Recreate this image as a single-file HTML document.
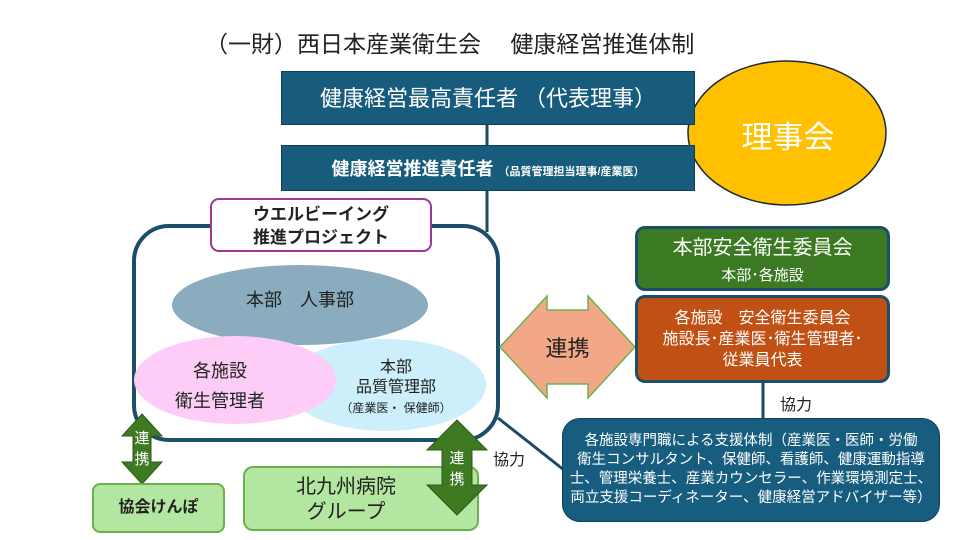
<!DOCTYPE html>
<html><head><meta charset="utf-8"><style>
body{margin:0;width:960px;height:540px;background:#fff;position:relative;overflow:hidden;font-family:"Liberation Sans","Noto Sans CJK JP",sans-serif}
.a{position:absolute;box-sizing:border-box;text-align:center}
</style></head><body>
<div class="a" style="left:205px;top:25px;width:540px;font-size:23px;color:#222;text-align:left">（一財）西日本産業衛生会　 健康経営推進体制</div>
<svg class="a" style="left:0;top:0" width="960" height="540">
<line x1="487" y1="120" x2="487" y2="232" stroke="#1b4a66" stroke-width="3"/>
<line x1="763" y1="380" x2="763" y2="420" stroke="#1b4a66" stroke-width="3"/>
<line x1="498" y1="418" x2="564" y2="470" stroke="#1b4a66" stroke-width="3"/>
<ellipse cx="787" cy="133" rx="99" ry="72" fill="#ffc000" stroke="#1a2a33" stroke-width="1.5"/>
<rect x="134" y="226" width="364" height="214" rx="35" fill="#fff" stroke="#1b4e6b" stroke-width="4"/>
<ellipse cx="300" cy="305" rx="128" ry="40" fill="#8aacbe"/>
<ellipse cx="386" cy="385" rx="100" ry="46" fill="#cdeefb"/>
<ellipse cx="235" cy="380" rx="101" ry="44" fill="#fdcdf7"/>
<polygon points="500,347 547,296 547,310 588,310 588,296 635,347 588,398 588,384 547,384 547,398" fill="#f2a886" stroke="#6bb24e" stroke-width="1.5"/>
<polygon points="142,414 162,436 151,436 151,462 162,462 142,484 122,462 133,462 133,436 122,436" fill="#3d7a22" stroke="#2d5a18"/>
</svg>
<div class="a" style="left:281px;top:71px;width:414px;height:54px;background:#175b7d;color:#fff;font-size:22px;line-height:54px;border:1px solid #0f3f58">健康経営最高責任者 （代表理事）</div>
<div class="a" style="left:281px;top:145px;width:414px;height:46px;background:#175b7d;color:#fff;font-size:18px;line-height:46px;border:1px solid #0f3f58;font-weight:bold">健康経営推進責任者 <span style="font-size:11px">（品質管理担当理事/産業医）</span></div>
<div class="a" style="left:690px;top:112px;width:196px;font-size:31px;color:#fff">理事会</div>
<div class="a" style="left:210px;top:198px;width:222px;height:54px;background:#fff;border:2px solid #a0359a;border-radius:9px;font-size:17px;line-height:23px;padding-top:3px;font-weight:bold;color:#222">ウエルビーイング<br>推進プロジェクト</div>
<div class="a" style="left:200px;top:286px;width:200px;font-size:18px;color:#222">本部　人事部</div>
<div class="a" style="left:140px;top:356px;width:160px;font-size:18px;line-height:30px;color:#222">各施設<br>衛生管理者</div>
<div class="a" style="left:316px;top:358px;width:160px;font-size:16px;line-height:20px;color:#222">本部<br>品質管理部<br><span style="font-size:12px">（産業医・ 保健師）</span></div>
<div class="a" style="left:635px;top:226px;width:255px;height:65px;background:#3b7a22;border:3px solid #1b4e6b;border-radius:10px;color:#fff;font-size:20px;line-height:26px;padding-top:6px">本部安全衛生委員会<br><span style="font-size:15px">本部･各施設</span></div>
<div class="a" style="left:635px;top:295px;width:255px;height:88px;background:#c05014;border:3px solid #1b4e6b;border-radius:10px;color:#fff;font-size:16px;line-height:21px;padding-top:10px">各施設　安全衛生委員会<br>施設長･産業医･衛生管理者･<br>従業員代表</div>
<div class="a" style="left:520px;top:331px;width:95px;font-size:22px;color:#222">連携</div>
<div class="a" style="left:780px;top:391px;width:50px;font-size:16px;color:#222;text-align:left">協力</div>
<div class="a" style="left:493px;top:446px;width:50px;font-size:16px;color:#222;text-align:left">協力</div>
<div class="a" style="left:562px;top:418px;width:378px;height:104px;background:#165d7f;border:1px solid #0f3f58;border-radius:18px;color:#fff;font-size:14.5px;line-height:19px;padding-top:13px">各施設専門職による支援体制（産業医・医師・労働<br>衛生コンサルタント、保健師、看護師、健康運動指導<br>士、管理栄養士、産業カウンセラー、作業環境測定士、<br>両立支援コーディネーター、健康経営アドバイザー等）</div>
<div class="a" style="left:92px;top:483px;width:133px;height:50px;background:#b3e6a0;border:2px solid #6bb24e;border-radius:8px;font-size:16px;line-height:46px;color:#222;font-weight:bold">協会けんぽ</div>
<div class="a" style="left:243px;top:466px;width:236px;height:65px;background:#b3e6a0;border:2px solid #6bb24e;border-radius:10px;font-size:20px;line-height:25px;padding-top:7px;color:#222;padding-right:30px">北九州病院<br>グループ</div>
<svg class="a" style="left:0;top:0" width="960" height="540">
<polygon points="457,420 487,450 472,450 472,485 487,485 457,515 427,485 442,485 442,450 427,450" fill="#3d7a22" stroke="#2d5a18"/>
</svg>
<div class="a" style="left:130px;top:428px;width:24px;font-size:15px;line-height:21px;color:#fff">連<br>携</div>
<div class="a" style="left:445px;top:448px;width:24px;font-size:15px;line-height:21px;color:#fff">連<br>携</div>
</body></html>
